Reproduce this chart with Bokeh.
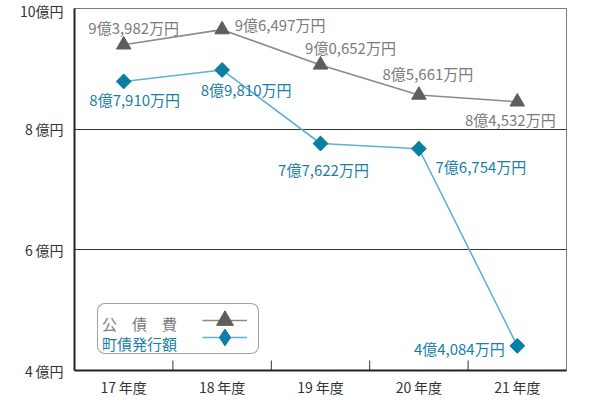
import math
from bokeh.plotting import figure
from bokeh.models import (FactorRange, FixedTicker, Legend, LegendItem,
                          ColumnDataSource)
from bokeh.embed import file_html
from bokeh.resources import INLINE

# ---- data ----
years = ["17\u2009年度", "18\u2009年度", "19\u2009年度", "20\u2009年度", "21\u2009年度"]
kousaihi = [9.3982, 9.6497, 9.0652, 8.5661, 8.4532]          # 公債費 (億円)
chousai = [8.7910, 8.9810, 7.7622, 7.6754, 4.4084]           # 町債発行額 (億円)
kousaihi_labels = ["9億3,982万円", "9億6,497万円", "9億0,652万円", "8億5,661万円", "8億4,532万円"]
chousai_labels = ["8億7,910万円", "8億9,810万円", "7億7,622万円", "7億6,754万円", "4億4,084万円"]
y_ticks = [4, 6, 8, 10]
y_tick_labels = ["4\u2009億円", "6\u2009億円", "8\u2009億円", "10億円"]
series_names = ["公　債　費", "町債発行額"]

# ---- styles ----
FONT = "Noto Sans CJK JP"
GRAY_LINE = "#8a8a8a"
GRAY_MARK = "#5e5e5e"
GRAY_TEXT = "#7b7b7b"
BLUE_LINE = "#5fb1cf"
BLUE_MARK = "#0b7fa2"
BLUE_TEXT = "#1a7fa7"
k_off = [(10, -17), (58, -5), (30, -17), (9, -22), (-7, 18)]
c_off = [(11, 18), (24, 20), (3, 26), (62, 18), (-58, 3)]

p = figure(x_range=FactorRange(factors=years, range_padding=0),
           y_range=(4, 10), frame_width=492, frame_height=362,
           min_border_left=74, min_border_right=48, min_border_top=8,
           min_border_bottom=50, output_backend="svg", toolbar_location=None)
p.background_fill_color = "white"
p.border_fill_color = "white"
p.outline_line_color = "#7a7a7a"
p.outline_line_width = 1

# axes
p.yaxis.ticker = FixedTicker(ticks=y_ticks)
p.yaxis.major_label_overrides = {t: l for t, l in zip(y_ticks, y_tick_labels)}
for ax in (p.xaxis[0], p.yaxis[0]):
    ax.axis_line_color = "#222222"
    ax.axis_line_width = 2
    ax.major_tick_line_color = None
    ax.minor_tick_line_color = None
    ax.major_tick_out = 0
    ax.major_tick_in = 0
    ax.minor_tick_out = 0
    ax.major_label_text_font = FONT
    ax.major_label_text_font_size = "14px"
    ax.major_label_text_color = "#333333"
p.yaxis.major_label_standoff = 11
p.xaxis.major_label_standoff = 6
p.xgrid.grid_line_color = None
p.ygrid.ticker = FixedTicker(ticks=[6, 8])
p.ygrid.grid_line_color = "#333333"
p.ygrid.grid_line_width = 1

# boundary ticks between categories
p.ray(x=list(range(1, len(years))), y=[y_ticks[0]] * (len(years) - 1), length=10,
      length_units="screen", angle=math.pi / 2, line_color="#333333", line_width=1)

# series
ks = ColumnDataSource(dict(x=years, y=kousaihi, t=kousaihi_labels,
                           dx=[o[0] for o in k_off], dy=[o[1] for o in k_off]))
cs = ColumnDataSource(dict(x=years, y=chousai, t=chousai_labels,
                           dx=[o[0] for o in c_off], dy=[o[1] for o in c_off]))

kl = p.line("x", "y", source=ks, line_color=GRAY_LINE, line_width=1.6)
km = p.scatter("x", "y", source=ks, marker="triangle", size=14.5,
               fill_color=GRAY_MARK, line_color=GRAY_MARK)
cl = p.line("x", "y", source=cs, line_color=BLUE_LINE, line_width=1.6)
# diamond used for the legend glyph; drawn beneath the rotated squares
leg_diamond = p.scatter("x", "y", source=cs, marker="diamond", size=14,
                        fill_color=BLUE_MARK, line_color=BLUE_MARK)
cm = p.scatter("x", "y", source=cs, marker="square", angle=math.pi / 4, size=10.5,
               fill_color=BLUE_MARK, line_color=BLUE_MARK)

p.text("x", "y", text="t", source=ks, x_offset="dx", y_offset="dy",
       text_align="center", text_baseline="middle", text_font={"value": FONT},
       text_font_size="15px", text_color=GRAY_TEXT)
p.text("x", "y", text="t", source=cs, x_offset="dx", y_offset="dy",
       text_align="center", text_baseline="middle", text_font={"value": FONT},
       text_font_size="15px", text_color=BLUE_TEXT)

# ---- legend (built from several Bokeh legends) ----
dummy = p.line(x=[], y=[], line_alpha=0)

def mk(items, loc, padding=5, glyph_height=19, **kw):
    lg = Legend(items=items, location=loc, padding=padding, spacing=1, margin=0,
                glyph_height=glyph_height, label_height=glyph_height,
                label_text_font=FONT, label_text_font_size="15px", **kw)
    p.add_layout(lg)
    return lg

frame_lg = mk([LegendItem(label="", renderers=[dummy]),
               LegendItem(label="", renderers=[dummy])], (23, 16),
              glyph_width=150, label_standoff=0, label_width=0,
              border_line_color="#444444", border_line_width=1,
              background_fill_color="white", background_fill_alpha=1)
if "border_radius" in Legend.properties():
    frame_lg.border_radius = 8
mk([LegendItem(label=series_names[0], renderers=[dummy])], (23, 36),
   glyph_width=5, label_standoff=0, label_text_color=GRAY_TEXT,
   border_line_color=None, background_fill_alpha=0)
mk([LegendItem(label=series_names[1], renderers=[dummy])], (23, 16),
   glyph_width=5, label_standoff=0, label_text_color=BLUE_TEXT,
   border_line_color=None, background_fill_alpha=0)
# glyph columns: one legend per row so the markers can be drawn larger
mk([LegendItem(label="", renderers=[kl, km], index=0)], (128, 29),
   padding=0, glyph_height=42, glyph_width=45, label_standoff=0, label_width=0,
   border_line_color=None, background_fill_alpha=0)
mk([LegendItem(label="", renderers=[cl, leg_diamond], index=0)], (128, 12),
   padding=0, glyph_height=42, glyph_width=45, label_standoff=0, label_width=0,
   border_line_color=None, background_fill_alpha=0)

open("out.html", "w").write(file_html(p, INLINE))
